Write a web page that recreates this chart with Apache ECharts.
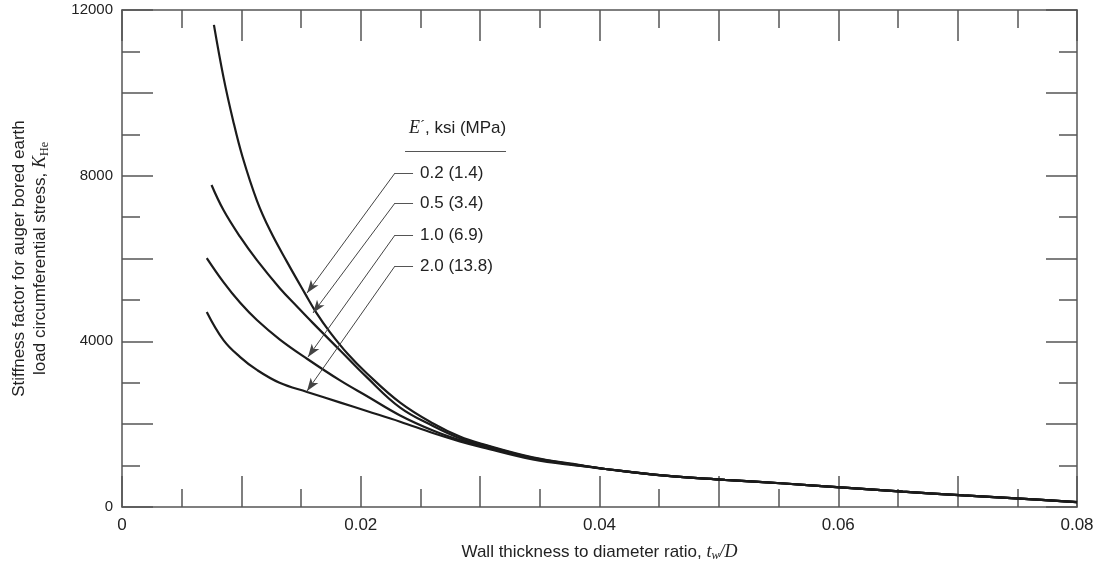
<!DOCTYPE html>
<html>
<head>
<meta charset="UTF-8">
<title>Stiffness factor K_He vs t_w/D</title>
<script src="https://cdn.jsdelivr.net/npm/echarts@6/dist/echarts.min.js"></script>
<style>
    html, body { margin: 0; padding: 0; background: #fff; }
    #chart { width: 1112px; height: 571px; }
</style>
</head>
<body>
<div id="chart"></div>
<script>
    // curve values (x = t_w/D, y = K_He)
    var labels = ['0.2 (1.4)', '0.5 (3.4)', '1.0 (6.9)', '2.0 (13.8)'];

    var aX = [0.0077, 0.0085, 0.0093, 0.0101, 0.0113, 0.0124, 0.0138, 0.0153, 0.0163, 0.0174, 0.0189, 0.0205, 0.0233, 0.0261, 0.0283, 0.0302, 0.0344, 0.0384];
    var aY = [11640, 10380, 9340, 8450, 7400, 6680, 5930, 5170, 4680, 4230, 3700, 3230, 2520, 2010, 1700, 1520, 1200, 1010];

    var bX = [0.0075, 0.0085, 0.0099, 0.0113, 0.0132, 0.0147, 0.0160, 0.0183, 0.0205, 0.0233, 0.0261, 0.0283, 0.0302, 0.0344, 0.0384];
    var bY = [7775, 7170, 6520, 5960, 5290, 4830, 4440, 3773, 3135, 2400, 1950, 1660, 1500, 1185, 1005];

    var cX = [0.0071, 0.0085, 0.0099, 0.0113, 0.0132, 0.0155, 0.0183, 0.0205, 0.0233, 0.0261, 0.0283, 0.0302, 0.0344, 0.0384];
    var cY = [6010, 5430, 4930, 4515, 4050, 3580, 3050, 2680, 2210, 1840, 1615, 1470, 1170, 1000];

    var dX = [0.0071, 0.0085, 0.0099, 0.0113, 0.0132, 0.0155, 0.0183, 0.0205, 0.0233, 0.0261, 0.0283, 0.0302, 0.0344, 0.0384];
    var dY = [4710, 4030, 3620, 3310, 3000, 2778, 2520, 2318, 2060, 1780, 1585, 1440, 1150, 990];

    // all four curves share this tail
    var tailX = [0.0405, 0.0455, 0.0505, 0.0555, 0.0605, 0.0654, 0.0705, 0.0756, 0.0800];
    var tailY = [918, 756, 657, 567, 468, 369, 280, 198, 116];

    var xTicks = [0, 0.02, 0.04, 0.06, 0.08];
    var yTicks = [0, 4000, 8000, 12000];

    function pairs(xs, ys) {
        var out = [];
        for (var i = 0; i < xs.length; i++) out.push([xs[i], ys[i]]);
        for (var j = 0; j < tailX.length; j++) out.push([tailX[j], tailY[j]]);
        return out;
    }

    var SANS = '"Liberation Sans", Arial, sans-serif';
    var SERIF = '"Liberation Serif", "DejaVu Serif", serif';
    var AX = '#555';

    // leader lines of the labels (data units)
    var cornerX = 0.02287, endX = 0.02438;
    var cornerY = [8064, 7340, 6567, 5819];
    var tips = [[0.0155, 5167], [0.0160, 4684], [0.01558, 3622], [0.0155, 2800]];

    var chart = echarts.init(document.getElementById('chart'), null, {renderer: 'canvas'});

    function baseX(pos, showLabel) {
        return {
            type: 'value', position: pos, min: 0, max: 0.08, interval: 0.01,
            axisLine: {show: true, onZero: false, lineStyle: {color: AX, width: 1.5}},
            axisTick: {show: true, inside: true, length: 31, lineStyle: {color: AX, width: 1.5}},
            minorTick: {show: true, splitNumber: 2, length: 18, lineStyle: {color: AX, width: 1.5}},
            splitLine: {show: false}, minorSplitLine: {show: false},
            axisLabel: {
                show: showLabel, margin: 10, fontSize: 17, color: '#222', fontFamily: SANS,
                formatter: function (v) {
                    for (var i = 0; i < xTicks.length; i++) {
                        if (Math.abs(v - xTicks[i]) < 1e-9) return v === 0 ? '0' : xTicks[i].toFixed(2);
                    }
                    return '';
                }
            }
        };
    }

    function baseY(pos, showLabel) {
        return {
            type: 'value', position: pos, min: 0, max: 12000, interval: 2000,
            axisLine: {show: true, onZero: false, lineStyle: {color: AX, width: 1.5}},
            axisTick: {show: true, inside: true, length: 31, lineStyle: {color: AX, width: 1.5}},
            minorTick: {show: true, splitNumber: 2, length: 18, lineStyle: {color: AX, width: 1.5}},
            splitLine: {show: false}, minorSplitLine: {show: false},
            axisLabel: {
                show: showLabel, margin: 9, fontSize: 15, color: '#222', fontFamily: SANS,
                formatter: function (v) { return yTicks.indexOf(v) >= 0 ? String(v) : ''; }
            }
        };
    }

    var xBottom = baseX('bottom', true);
    xBottom.name = 'Wall thickness to diameter ratio, {i|t}{sub|w}{i|/D}';
    xBottom.nameLocation = 'middle';
    xBottom.nameGap = 36;
    xBottom.nameTextStyle = {
        fontSize: 17, color: '#222', fontFamily: SANS,
        rich: {
            i: {fontSize: 18, fontStyle: 'italic', fontFamily: SERIF, color: '#222'},
            sub: {fontSize: 12, fontStyle: 'italic', fontFamily: SERIF, color: '#222', verticalAlign: 'bottom', padding: [7, 0, 0, 0]}
        }
    };

    var yLeft = baseY('left', true);
    yLeft.name = 'Stiffness factor for auger bored earth\nload circumferential stress, {k|K}{sub|He}';
    yLeft.nameLocation = 'middle';
    yLeft.nameRotate = 90;
    yLeft.nameGap = 71;
    yLeft.nameTextStyle = {
        fontSize: 17, color: '#222', fontFamily: SANS, lineHeight: 21,
        rich: {
            k: {fontSize: 18, fontStyle: 'italic', fontFamily: SERIF, color: '#222'},
            sub: {fontSize: 12, fontFamily: SERIF, color: '#222', verticalAlign: 'bottom', padding: [7, 0, 0, 0]}
        }
    };

    var lineStyle = {color: '#1b1b1b', width: 2.2};

    function curve(name, xs, ys) {
        return {
            name: name, type: 'line', xAxisIndex: 0, yAxisIndex: 0,
            data: pairs(xs, ys), smooth: 0.4, showSymbol: false, symbol: 'none',
            lineStyle: lineStyle, itemStyle: {color: '#1b1b1b'}, silent: true
        };
    }

    var sA = curve(labels[0], aX, aY);
    var sB = curve(labels[1], bX, bY);
    var sC = curve(labels[2], cX, cY);
    var sD = curve(labels[3], dX, dY);

    // horizontal leaders with label text, plus the header underline
    var hData = labels.map(function (t, i) {
        return [{coord: [cornerX, cornerY[i]]},
                {coord: [endX, cornerY[i]], label: {show: true, formatter: t}}];
    });
    hData.push([{coord: [0.02371, 8596]}, {coord: [0.03217, 8596]}]);
    sA.markLine = {
        silent: true, animation: false, symbol: ['none', 'none'],
        lineStyle: {color: '#555', width: 1, type: 'solid'},
        label: {show: false, position: 'end', distance: 7, fontSize: 17, color: '#222', fontFamily: SANS},
        emphasis: {disabled: true},
        data: hData
    };

    // diagonal arrows pointing at the curves
    sB.markLine = {
        silent: true, animation: false, symbol: ['none', 'arrow'], symbolSize: [0, 10],
        lineStyle: {color: '#444', width: 1, type: 'solid'},
        label: {show: false},
        emphasis: {disabled: true},
        data: tips.map(function (p, i) {
            return [{coord: [cornerX, cornerY[i]]}, {coord: p, symbol: 'arrow', symbolSize: [7, 13]}];
        })
    };

    chart.setOption({
        animation: false,
        backgroundColor: '#fff',
        grid: {left: 122, right: 35, top: 10, bottom: 64, containLabel: false},
        xAxis: [xBottom, baseX('top', false)],
        yAxis: [yLeft, baseY('right', false)],
        graphic: [{
            type: 'text', left: 409, top: 119, silent: true,
            style: {
                text: '{e|E}{p|\u00b4}{t|, ksi (MPa)}',
                rich: {
                    e: {fontSize: 18, fontStyle: 'italic', fontFamily: SERIF, fill: '#222'},
                    p: {fontSize: 15, fontFamily: SERIF, fill: '#222', verticalAlign: 'top'},
                    t: {fontSize: 17, fontFamily: SANS, fill: '#222'}
                }
            }
        }],
        series: [sA, sB, sC, sD]
    });
</script>
</body>
</html>
